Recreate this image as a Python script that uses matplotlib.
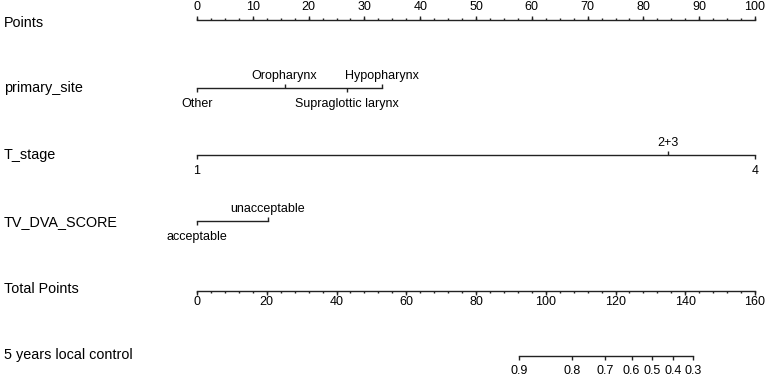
import numpy as np
import matplotlib
matplotlib.use("Agg")
import matplotlib.pyplot as plt

plt.rcParams['font.family'] = ['Liberation Sans', 'DejaVu Sans']

# row names
row_labels = ["Points", "primary_site", "T_stage", "TV_DVA_SCORE",
              "Total Points", "5 years local control"]

# points scale
points_major = [0, 10, 20, 30, 40, 50, 60, 70, 80, 90, 100]
points_minor_step = 2.5

# categorical predictors (value -> points)
site_names = ["Other", "Oropharynx", "Supraglottic larynx", "Hypopharynx"]
site_points = [0, 15.7, 26.9, 33.2]
site_above = [False, True, False, True]

tstage_names = ["1", "2+3", "4"]
tstage_points = [0, 84.4, 100]
tstage_above = [False, True, False]

tv_names = ["acceptable", "unacceptable"]
tv_points = [0, 12.7]
tv_above = [False, True]

# total points scale
total_major = [0, 20, 40, 60, 80, 100, 120, 140, 160]
total_max = 160
total_minor_step = 4

# 5 year local control probability vs total points
surv_labels = ["0.9", "0.8", "0.7", "0.6", "0.5", "0.4", "0.3"]
surv_total = [92.3, 107.5, 117.1, 124.6, 130.6, 136.5, 142.2]

W, H = 765, 377
fig = plt.figure(figsize=(W / 100, H / 100), dpi=100)
x0, x1 = 197, 755
ax = fig.add_axes([x0 / W, 0, (x1 - x0) / W, 1])
ax.set_xlim(0, 100)
ax.set_ylim(H, 0)
ax.axis("off")

row_y = [20, 88, 155, 221, 291, 356]
label_y = [23, 88, 155, 222, 289, 355]
col = "#222222"
fs = 9
fs_row = 10.4
lw = 1.0


def to_fig_x(px):
    return -x0 / (x1 - x0) * 100 + px / (x1 - x0) * 100


for name, ly in zip(row_labels, label_y):
    ax.text(to_fig_x(4), ly, name, ha="left", va="center", fontsize=fs_row,
            color="black", clip_on=False)


def tick(x, y, length, up):
    d = -length if up else length
    ax.plot([x, x], [y, y + d], color=col, lw=lw, clip_on=False,
            solid_capstyle="butt")


# Points axis
y = row_y[0]
ax.plot([0, 100], [y, y], color=col, lw=lw, clip_on=False)
for v in np.arange(0, 100 + 1e-9, points_minor_step):
    tick(v, y, 2, True)
for v in points_major:
    tick(v, y, 4, True)
    ax.text(v, y - 7, str(v), ha="center", va="bottom", fontsize=fs)


def cat_axis(y, names, pts, above):
    ax.plot([min(pts), max(pts)], [y, y], color=col, lw=lw, clip_on=False)
    for n, p, a in zip(names, pts, above):
        tick(p, y, 4, a)
        if a:
            ax.text(p, y - 6, n, ha="center", va="bottom", fontsize=fs)
        else:
            ax.text(p, y + 10, n, ha="center", va="top", fontsize=fs)


cat_axis(row_y[1], site_names, site_points, site_above)
cat_axis(row_y[2], tstage_names, tstage_points, tstage_above)
cat_axis(row_y[3], tv_names, tv_points, tv_above)

# Total points axis
y = row_y[4]
sc = 100 / total_max
ax.plot([0, 100], [y, y], color=col, lw=lw, clip_on=False)
for v in np.arange(0, total_max + 1e-9, total_minor_step):
    tick(v * sc, y, 2, False)
for v in total_major:
    tick(v * sc, y, 4, False)
    ax.text(v * sc, y + 5, str(v), ha="center", va="top", fontsize=fs)

# survival axis
y = row_y[5]
xs = [t * sc for t in surv_total]
ax.plot([min(xs), max(xs)], [y, y], color=col, lw=lw, clip_on=False)
for xv, lab in zip(xs, surv_labels):
    tick(xv, y, 4, False)
    ax.text(xv, y + 9, lab, ha="center", va="top", fontsize=fs)

fig.savefig("out.png", dpi=100)
